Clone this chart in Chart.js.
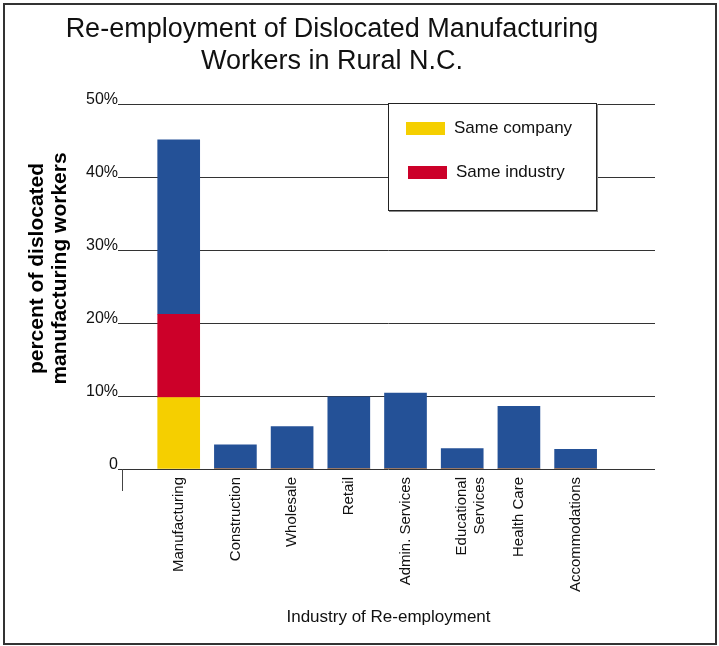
<!DOCTYPE html>
<html>
<head>
<meta charset="utf-8">
<script src="https://cdn.jsdelivr.net/npm/chart.js@4/dist/chart.umd.min.js"></script>
<style>
  body { margin: 0; background: #fff; }
  #wrap { position: relative; width: 719px; height: 646px; }
  #frame { position: absolute; left: 3px; top: 3px; width: 714px; height: 642px; box-sizing: border-box; border: 2px solid #333; pointer-events: none; }
  #legend { position: absolute; left: 388px; top: 103px; width: 209px; height: 108px; box-sizing: border-box;
            border: 1px solid #222; background: #fff; box-shadow: 1px 1px 0 #888;
            font-family: "Liberation Sans", Arial, sans-serif; font-size: 17px; color: #111; }
  .item { position: absolute; left: 17px; display: flex; align-items: center; }
  .swatch { width: 39px; height: 13px; margin-right: 9px; }
</style>
</head>
<body>
<div id="wrap">
  <canvas id="grafico" width="719" height="646"></canvas>
  <div id="legend"></div>
  <div id="frame"></div>
</div>
<script>
const categorias = ['Manufacturing', 'Construction', 'Wholesale', 'Retail', 'Admin. Services',
  ['Educational', 'Services'], 'Health Care', 'Accommodations'];
const mesmaEmpresa = [9.8, 0, 0, 0, 0, 0, 0, 0];
const mesmaIndustria = [11.4, 0, 0, 0, 0, 0, 0, 0];
const outros = [23.9, 3.3, 5.8, 9.9, 10.4, 2.8, 8.6, 2.7];
const ticksY = [0, 10, 20, 30, 40, 50];
const tituloY = ['percent of dislocated', 'manufacturing workers'];

const fonte = '"Liberation Sans", Arial, sans-serif';

function pontos(valores) {
  return valores.map((v, i) => ({ x: i, y: v }));
}

// stub under the left end of the x axis + the y title (sits a bit above the axis centre)
const extras = {
  id: 'extras',
  afterDraw(chart) {
    const { ctx, chartArea } = chart;
    ctx.save();
    ctx.strokeStyle = '#444';
    ctx.lineWidth = 1;
    ctx.beginPath();
    ctx.moveTo(chartArea.left + 0.5, chartArea.bottom);
    ctx.lineTo(chartArea.left + 0.5, chartArea.bottom + 22);
    ctx.stroke();

    const meio = (chartArea.top + chartArea.bottom) / 2 - 18;
    ctx.translate(37, meio);
    ctx.rotate(-Math.PI / 2);
    ctx.fillStyle = '#000';
    ctx.font = 'bold 21px ' + fonte;
    ctx.textAlign = 'center';
    ctx.textBaseline = 'middle';
    tituloY.forEach((linha, i) => ctx.fillText(linha, 0, i * 23));
    ctx.restore();
  }
};

const ctx = document.getElementById('grafico').getContext('2d');

const chartInstance = new Chart(ctx, {
  type: 'bar',
  data: {
    datasets: [
      { label: 'Same company', data: pontos(mesmaEmpresa), backgroundColor: '#f5cf00', legenda: true },
      { label: 'Same industry', data: pontos(mesmaIndustria), backgroundColor: '#cc0029', legenda: true },
      { label: 'Other', data: pontos(outros), backgroundColor: '#245197', legenda: false }
    ]
  },
  options: {
    responsive: false,
    animation: false,
    barThickness: 42,
    layout: { padding: { left: 9, right: 64, top: 4, bottom: 14 } },
    plugins: {
      legend: { display: false },
      tooltip: { enabled: false },
      title: {
        display: true,
        text: ['Re-employment of Dislocated Manufacturing', 'Workers in Rural N.C.'],
        color: '#111',
        font: { family: fonte, size: 27, weight: 'normal', lineHeight: '32px' },
        padding: { top: 10, bottom: 26 }
      }
    },
    scales: {
      x: {
        type: 'linear',
        stacked: true,
        offset: false,
        min: -1,
        max: 8.4,
        grid: { display: false },
        border: { display: false },
        afterBuildTicks: s => { s.ticks = categorias.map((_, i) => ({ value: i })); },
        afterFit: s => { s.height = 163; },
        ticks: {
          autoSkip: false,
          minRotation: 90,
          maxRotation: 90,
          padding: 0,
          color: '#111',
          font: { family: fonte, size: 15 },
          callback: v => categorias[v]
        },
        title: {
          display: true,
          text: 'Industry of Re-employment',
          color: '#111',
          font: { family: fonte, size: 17 }
        }
      },
      y: {
        stacked: true,
        min: 0,
        max: 50,
        afterBuildTicks: s => { s.ticks = ticksY.map(v => ({ value: v })); },
        afterFit: s => { s.width = 113; },
        grid: { color: '#333', lineWidth: 1, drawTicks: true, tickLength: 4 },
        border: { display: false },
        ticks: {
          padding: 0,
          labelOffset: -4,
          color: '#111',
          font: { family: fonte, size: 16 },
          callback: v => v === 0 ? '0' : v + '%'
        }
      }
    }
  },
  plugins: [extras]
});

// legend built from the datasets that are flagged for it
const legenda = document.getElementById('legend');
chartInstance.data.datasets.filter(d => d.legenda).forEach((d, i) => {
  const item = document.createElement('div');
  item.className = 'item';
  item.style.top = (14 + i * 44) + 'px';
  item.style.left = (17 + i * 2) + 'px';
  item.innerHTML = '<span class="swatch" style="background:' + d.backgroundColor + '"></span><span>' + d.label + '</span>';
  legenda.appendChild(item);
});
</script>
</body>
</html>
